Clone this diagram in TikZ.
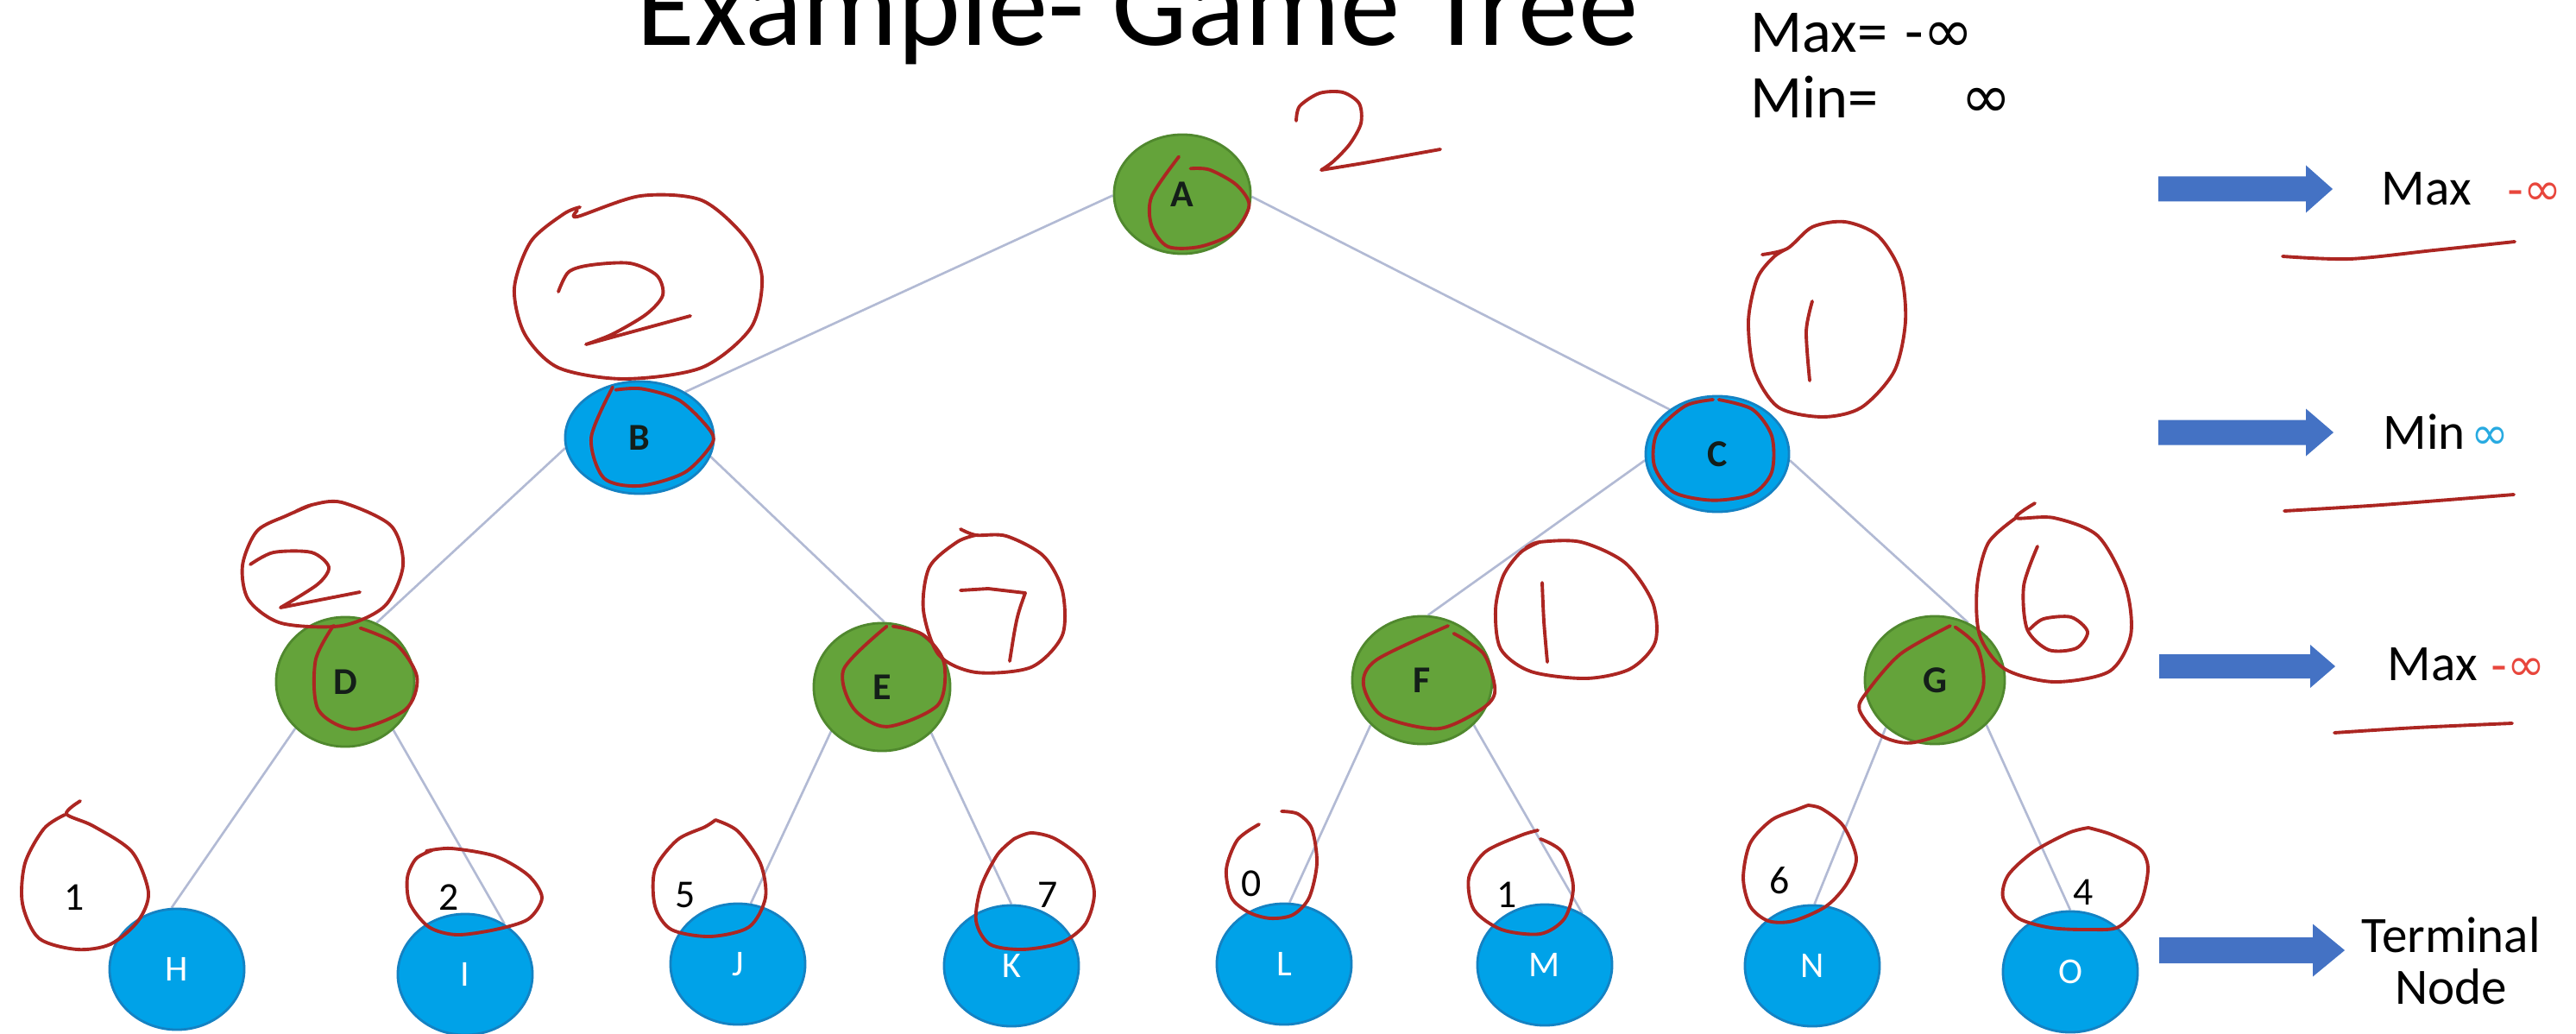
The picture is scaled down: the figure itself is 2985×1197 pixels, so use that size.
\documentclass[tikz,border=0pt]{standalone}
\usepackage{fontspec}
\setmainfont{Carlito}
\newfontfamily\symfam{DejaVu Sans}
\usetikzlibrary{shapes.geometric,backgrounds}

\definecolor{nodegreen}{RGB}{100,163,58}
\definecolor{greenedge}{RGB}{80,136,46}
\definecolor{nodeblue}{RGB}{0,162,232}
\definecolor{blueedge}{RGB}{20,130,195}
\definecolor{arrowblue}{RGB}{68,114,196}
\definecolor{linkgrey}{RGB}{178,186,212}
\definecolor{inkred}{RGB}{172,38,34}
\definecolor{infred}{RGB}{232,70,60}
\definecolor{infblue}{RGB}{40,170,225}
\definecolor{darklabel}{RGB}{20,30,25}

\newcommand{\fs}[2]{\fontsize{#1}{#2}\selectfont}
% block arrow: start x, centre y, shaft end x, tip x, shaft half height, head half height
\newcommand{\blockarrow}[6]{%
  \fill[arrowblue] (#1,#2-#5) -- (#3,#2-#5) -- (#3,#2-#6) -- (#4,#2)
    -- (#3,#2+#6) -- (#3,#2+#5) -- (#1,#2+#5) -- cycle;}

\begin{document}
\begin{tikzpicture}[x=0.01cm,y=-0.01cm,
  tnode/.style={ellipse, inner sep=0pt, line width=0.8pt},
  maxnode/.style={tnode, fill=nodegreen, draw=greenedge,
    font=\fs{12.5pt}{14pt}\bfseries, text=darklabel},
  minnode/.style={tnode, fill=nodeblue, draw=blueedge,
    font=\fs{12.5pt}{14pt}\bfseries, text=darklabel},
  leafnode/.style={tnode, fill=nodeblue, draw=blueedge,
    minimum width=1.56cm, minimum height=1.40cm,
    font=\fs{12pt}{14pt}, text=white},
  link/.style={draw=linkgrey, line width=0.75pt},
  ink/.style={draw=inkred, line width=1.1pt, line cap=round, line join=round},
  leafval/.style={font=\fs{13pt}{15pt}, text=black, inner sep=0pt},
  sidelabel/.style={font=\fs{16.8pt}{16.8pt}, inner sep=0pt},
  toplabel/.style={font=\fs{20pt}{20pt}, inner sep=0pt, anchor=base west}]

\useasboundingbox (0,0) rectangle (2985,1197);

% ---------- title and initial values ----------
\node[anchor=base west, inner sep=0pt, font=\fs{39.5pt}{40pt}] (title) at (737,53) {Example- Game Tree};
\node[toplabel] (maxinit) at (2028,61) {Max=\hspace{0.2cm}-{\symfam ∞}};
\node[toplabel] (mininit) at (2028,137) {Min=\hspace{0.95cm}{\symfam ∞}};

% ---------- tree nodes ----------
\node[maxnode, minimum width=1.58cm, minimum height=1.38cm] (A) at (1370,225) {A};
\node[minnode, minimum width=1.72cm, minimum height=1.30cm] (B) at (741,507) {B};
\node[minnode, minimum width=1.66cm, minimum height=1.34cm] (C) at (1990,526) {C};
\node[maxnode, minimum width=1.60cm, minimum height=1.50cm] (D) at (400,790) {D};
\node[maxnode, minimum width=1.58cm, minimum height=1.48cm] (E) at (1022,796) {E};
\node[maxnode, minimum width=1.62cm, minimum height=1.48cm] (F) at (1648,788) {F};
\node[maxnode, minimum width=1.62cm, minimum height=1.48cm] (G) at (2242,788) {G};
\node[leafnode] (H) at (205,1123) {H};
\node[leafnode] (I) at (539,1129) {I};
\node[leafnode] (J) at (855,1117) {J};
\node[leafnode] (K) at (1172,1119) {K};
\node[leafnode] (L) at (1488,1117) {L};
\node[leafnode] (M) at (1790,1118) {M};
\node[leafnode] (N) at (2100,1119) {N};
\node[leafnode] (O) at (2399,1126) {O};

% ---------- connectors ----------
\begin{scope}[on background layer]
  \fill[white] (0,0) rectangle (2985,1197);
  \draw[link] (A.181) -- (B.45);
  \draw[link] (A.-2) -- (C.137);
  \draw[link] (B.188) -- (D.62);
  \draw[link] (B.-15) -- (E.88);
  \draw[link] (C.185) -- (F.85);
  \draw[link] (C.-5) -- (G.60);
  \draw[link] (D.223) -- (H.95);
  \draw[link] (D.-45) -- (I.52);
  \draw[link] (E.221) -- (J.78);
  \draw[link] (E.-43) -- (K.90);
  \draw[link] (F.221) -- (L.85);
  \draw[link] (F.-41) -- (M.54);
  \draw[link] (G.224) -- (N.88);
  \draw[link] (G.-41) -- (O.90);
\end{scope}

% ---------- terminal values ----------
\node[leafval] (vH) at (86,1040) {1};
\node[leafval] (vI) at (520,1040) {2};
\node[leafval] (vJ) at (794,1037) {5};
\node[leafval] (vK) at (1214,1037) {7};
\node[leafval] (vL) at (1450,1024) {0};
\node[leafval] (vM) at (1746,1037) {1};
\node[leafval] (vN) at (2062,1020) {6};
\node[leafval] (vO) at (2414,1034) {4};

% ---------- level legend ----------
\blockarrow{2501}{219}{2672}{2703}{14.5}{27.5}
\blockarrow{2501}{501}{2672}{2704}{14.5}{27.5}
\blockarrow{2502}{772}{2677}{2706}{14}{25}
\blockarrow{2502}{1101}{2680}{2717}{15}{30.5}
\node[sidelabel, anchor=base west] (lev1) at (2759,238) {Max\hspace{0.42cm}\textcolor{infred}{\fs{15pt}{15pt}\symfam -∞}};
\node[sidelabel, anchor=base west] (lev2) at (2761,520) {Min\hspace{0.07cm}\textcolor{infblue}{\fs{15pt}{15pt}\symfam ∞}};
\node[sidelabel, anchor=base west] (lev3) at (2766,788) {Max\hspace{0.16cm}\textcolor{infred}{\fs{15pt}{15pt}\symfam -∞}};
\node[sidelabel, anchor=base, align=center] (lev4) at (2840,1163) {Terminal\\Node};

% pen strokes under the legend labels
\draw[ink] plot[smooth] coordinates {(2645,297) (2723,300) (2820,290) (2914,280)};
\draw[ink] plot[smooth] coordinates {(2647,592) (2760,585) (2913,573)};
\draw[ink] plot[smooth] coordinates {(2705,849) (2800,843) (2911,838)};

% ---------- pen strokes: backed-up values ----------
% value 2 beside the root
\draw[ink] plot[smooth] coordinates {(1502,140) (1506,123) (1529,108) (1556,107) (1575,120) (1577,143) (1564,167) (1545,187) (1531,197)}
  -- (1580,189) -- (1669,173);
% circled 2 above B
\draw[ink] plot[smooth] coordinates {(669,244) (669,251) (742,227) (813,232) (864,276) (883,322) (870,380) (813,426) (723,439) (647,426) (608,387) (596,334) (615,280) (653,248) (672,240)};
\draw[ink] plot[smooth] coordinates {(647,338) (659,315) (685,307) (730,305) (761,319) (768,342) (749,364) (710,387) (679,399)} -- (800,366);
% circled 1 above C
\draw[ink] plot[smooth] coordinates {(2042,295) (2071,288) (2100,263) (2138,257) (2176,273) (2202,315) (2208,372) (2195,430) (2157,472) (2112,483) (2061,472) (2033,430) (2026,372) (2036,323) (2055,298) (2071,288)};
\draw[ink] plot[smooth] coordinates {(2100,349) (2093,384) (2097,441)};
% circled 2 above D
\begin{scope}[shift={(0,12)}]
\draw[ink] plot[smooth] coordinates {(340,582) (361,573) (396,570) (453,597) (467,643) (446,690) (396,713) (326,710) (288,683) (281,643) (298,603) (333,585) (361,573)};
\draw[ink] plot[smooth] coordinates {(290,642) (317,628) (361,628) (381,645) (368,665) (325,692)} -- (417,674);
\end{scope}
% circled 7 beside E
\draw[ink] plot[smooth] coordinates {(1113,613) (1131,620) (1166,621) (1209,644) (1231,684) (1231,736) (1195,773) (1131,779) (1088,759) (1070,707) (1077,657) (1109,628) (1131,620)};
\draw[ink] (1113,684) -- (1145,682) -- (1188,687) .. controls (1178,715) .. (1170,766);
% circled 1 beside F
\draw[ink] plot[smooth] coordinates {(1768,635) (1784,628) (1832,628) (1883,652) (1915,698) (1918,744) (1889,775) (1838,786) (1774,778) (1739,752) (1733,706) (1742,667) (1762,640) (1784,628)};
\draw[ink] plot[smooth] coordinates {(1787,675) (1789,720) (1793,767)};
% circled 6 beside G
\draw[ink] plot[smooth] coordinates {(2358,583) (2336,600) (2380,600) (2431,621) (2463,679) (2469,736) (2444,778) (2380,790) (2323,775) (2294,736) (2291,679) (2304,629) (2336,600)};
\draw[ink] plot[smooth] coordinates {(2361,633) (2345,679) (2349,729) (2374,753) (2406,751) (2419,732) (2400,715) (2368,717) (2352,729)};

% ---------- pen strokes: loops over the inner nodes ----------
\begin{scope}[shift={(A)}, x=0.79cm, y=-0.69cm]
  \draw[ink] plot[smooth] coordinates {(-0.05,-0.63) (-0.45,0.04) (-0.45,0.53) (-0.21,0.88) (0.26,0.88) (0.74,0.65) (0.98,0.19) (0.79,-0.16) (0.40,-0.41) (0.12,-0.43)};
\end{scope}
\begin{scope}[shift={(B)}, x=0.86cm, y=-0.65cm]
  \draw[ink] plot[smooth] coordinates {(-0.36,-0.9) (-0.65,0) (-0.48,0.72) (0,0.86) (0.61,0.62) (0.98,0.1) (0.92,-0.18) (0.53,-0.67) (0.03,-0.87) (-0.32,-0.85)};
\end{scope}
\begin{scope}[shift={(C)}, x=0.83cm, y=-0.67cm]
  \draw[ink] plot[smooth] coordinates {(0.02,-0.94) (0.49,-0.77) (0.76,-0.31) (0.76,0.31) (0.49,0.69) (-0.06,0.8) (-0.61,0.66) (-0.88,0.2) (-0.84,-0.37) (-0.45,-0.83) (-0.06,-0.94)};
\end{scope}
\begin{scope}[shift={(D)}, x=0.80cm, y=-0.75cm]
  \draw[ink] plot[smooth] coordinates {(-0.17,-0.87) (-0.43,-0.33) (-0.39,0.43) (0.13,0.73) (0.87,0.43) (1.04,-0.07) (0.74,-0.58) (0.22,-0.83)};
\end{scope}
\begin{scope}[shift={(E)}, x=0.79cm, y=-0.74cm]
  \draw[ink] plot[smooth] coordinates {(0.07,-0.95) (-0.56,-0.28) (-0.42,0.33) (0.07,0.62) (0.82,0.28) (0.91,-0.38) (0.6,-0.82) (0.16,-0.95)};
\end{scope}
\begin{scope}[shift={(F)}, x=0.81cm, y=-0.74cm]
  \draw[ink] plot[smooth] coordinates {(0.37,-0.85) (-0.65,-0.32) (-0.84,0.07) (-0.57,0.56) (0.22,0.76) (0.84,0.46) (1.04,0.17) (0.88,-0.41) (0.45,-0.73)};
\end{scope}
\begin{scope}[shift={(G)}, x=0.81cm, y=-0.74cm]
  \draw[ink] plot[smooth] coordinates {(0.22,-0.85) (-0.49,-0.41) (-0.96,0.17) (-1.08,0.46) (-0.8,0.85) (-0.33,0.98) (0.37,0.7) (0.69,0.12) (0.61,-0.51) (0.29,-0.83)};
\end{scope}

% ---------- pen strokes: loops round the terminal values ----------
\draw[ink] plot[smooth] coordinates {(93,928) (77,943) (108,957) (153,987) (172,1034) (160,1067) (128,1094) (89,1100) (45,1087) (26,1047) (29,1000) (51,960) (75,944)};
\draw[ink] plot[smooth] coordinates {(494,986) (523,983) (574,992) (612,1014) (628,1040) (612,1065) (574,1077) (529,1083) (497,1074) (475,1047) (472,1017) (482,995) (501,985)};
\draw[ink] plot[smooth] coordinates {(829,950) (817,958) (785,973) (759,1007) (759,1050) (778,1077) (823,1085) (868,1074) (887,1040) (881,1000) (855,963) (829,950)};
\draw[ink] plot[smooth] coordinates {(1175,972) (1195,965) (1223,972) (1255,997) (1268,1034) (1258,1070) (1230,1092) (1185,1100) (1147,1094) (1131,1067) (1137,1027) (1156,990) (1175,972)};
\draw[ink] plot[smooth] coordinates {(1485,940) (1504,943) (1520,960) (1526,1000) (1517,1040) (1498,1060) (1472,1064) (1447,1057) (1427,1040) (1421,1007) (1434,973) (1459,955)};
\draw[ink] plot[smooth] coordinates {(1782,962) (1762,968) (1721,987) (1702,1017) (1708,1054) (1740,1077) (1785,1082) (1813,1064) (1823,1027) (1810,987) (1785,972)};
\draw[ink] plot[smooth] coordinates {(2095,933) (2082,938) (2053,950) (2028,977) (2020,1017) (2028,1050) (2049,1067) (2078,1067) (2116,1050) (2140,1024) (2151,994) (2136,957) (2111,937) (2095,933)};
\draw[ink] plot[smooth] coordinates {(2420,959) (2397,965) (2356,987) (2327,1014) (2321,1040) (2339,1064) (2377,1075) (2422,1077) (2455,1074) (2480,1047) (2489,1007) (2480,984) (2447,967) (2420,959)};

\end{tikzpicture}
\end{document}
